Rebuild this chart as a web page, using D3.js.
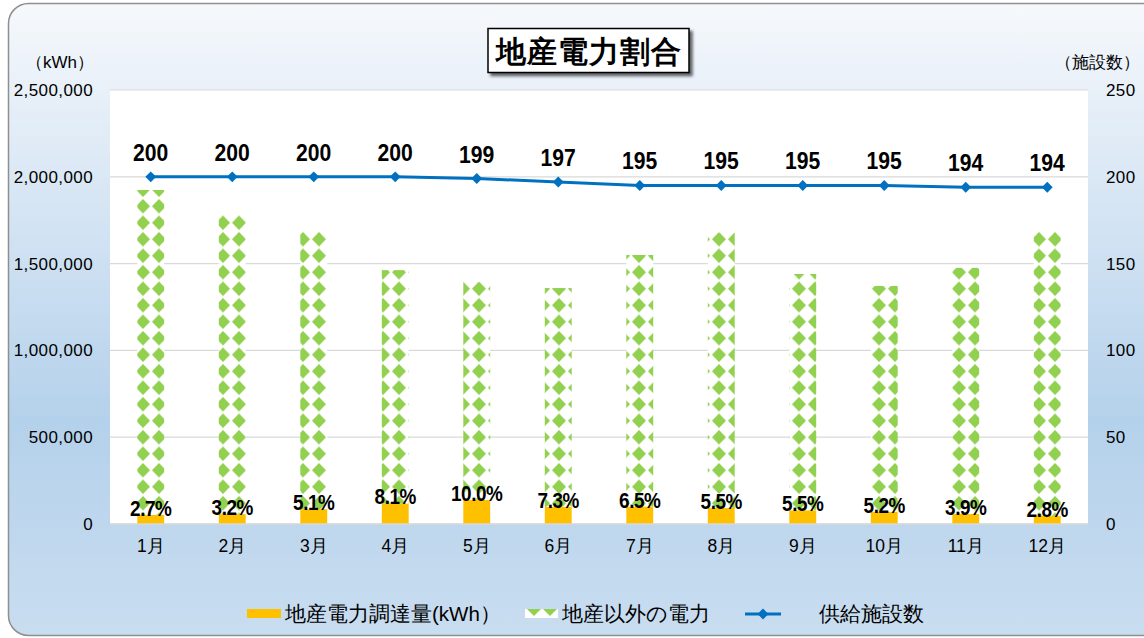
<!DOCTYPE html>
<html><head><meta charset="utf-8">
<script src="https://cdn.jsdelivr.net/npm/d3@7"></script>
<style>
html,body{margin:0;padding:0;background:#fff;overflow:hidden}
text{font-family:"Liberation Sans",Arial,sans-serif}
</style></head>
<body>
<svg id="c" width="1144" height="638"></svg>
<script>
const months = ["1月","2月","3月","4月","5月","6月","7月","8月","9月","10月","11月","12月"];
const localPower = [51900,57200,85800,118500,139400,99200,100800,91900,79200,71300,57500,47100];
const otherPower = [1872000,1729000,1596000,1344000,1255000,1260000,1449000,1588000,1361000,1300000,1418000,1635000];
const facilities = [200,200,200,200,199,197,195,195,195,195,194,194];
const pctLabels = ["2.7%","3.2%","5.1%","8.1%","10.0%","7.3%","6.5%","5.5%","5.5%","5.2%","3.9%","2.8%"];
const leftTicks = [0,500000,1000000,1500000,2000000,2500000];
const rightTicks = [0,50,100,150,200,250];
const titleText = "地産電力割合";
const legendNames = ["地産電力調達量(kWh）","地産以外の電力","供給施設数"];

const svg = d3.select("#c");
const plot = {x0:110, x1:1088, y0:90, y1:524};
const defs = svg.append("defs");
const JP = "Noto Sans CJK JP";

const bg = defs.append("linearGradient").attr("id","bg").attr("x1",0).attr("y1",0).attr("x2",0).attr("y2",1);
[[0,"#f6f9fc"],[0.12,"#eaf1f9"],[0.66,"#b4d1eb"],[1,"#c9ddf0"]].forEach(s=>bg.append("stop").attr("offset",s[0]).attr("stop-color",s[1]));

const sh = defs.append("filter").attr("id","sh").attr("x","-10%").attr("y","-10%").attr("width","130%").attr("height","140%");
sh.append("feGaussianBlur").attr("in","SourceAlpha").attr("stdDeviation",1.5).attr("result","b");
sh.append("feOffset").attr("in","b").attr("dx",3).attr("dy",3).attr("result","o");
sh.append("feComponentTransfer").attr("in","o").attr("result","o2").append("feFuncA").attr("type","linear").attr("slope",0.6);
const fm = sh.append("feMerge"); fm.append("feMergeNode").attr("in","o2"); fm.append("feMergeNode").attr("in","SourceGraphic");

const pat = defs.append("pattern").attr("id","dia").attr("patternUnits","userSpaceOnUse")
  .attr("width",16).attr("height",16.5).attr("x",135).attr("y",0);
pat.append("rect").attr("width",16).attr("height",16.5).attr("fill","#ffffff");
pat.append("path").attr("d","M8,1 L15,8.25 L8,15.5 L1,8.25 Z").attr("fill","#92d050");

// outer frame
svg.append("rect").attr("x",8.5).attr("y",3.5).attr("width",1160).attr("height",632).attr("rx",20)
  .attr("fill","url(#bg)").attr("stroke","#8f8f8f").attr("stroke-width",1.5);

// plot area
svg.append("rect").attr("x",plot.x0).attr("y",plot.y0).attr("width",plot.x1-plot.x0).attr("height",plot.y1-plot.y0).attr("fill","#fff");

const x = d3.scaleBand().domain(months).range([plot.x0,plot.x1]).paddingInner(0.67).paddingOuter(0.335);
const yL = d3.scaleLinear().domain([0,2500000]).range([plot.y1,plot.y0]);
const yR = d3.scaleLinear().domain([0,250]).range([plot.y1,plot.y0]);
const cx = m => x(m)+x.bandwidth()/2;

// gridlines
svg.append("g").selectAll("line").data(leftTicks).join("line")
  .attr("x1",plot.x0).attr("x2",plot.x1).attr("y1",d=>yL(d)).attr("y2",d=>yL(d))
  .attr("stroke","#d9d9d9").attr("stroke-width",1.2);

// axes (text only)
const fmt = d3.format(",");
const axL = svg.append("g").attr("transform",`translate(${plot.x0},0)`)
  .call(d3.axisLeft(yL).tickValues(leftTicks).tickFormat(fmt).tickSize(0).tickPadding(17));
axL.select(".domain").remove();
axL.selectAll("text").attr("font-size",17).attr("fill","#000").attr("letter-spacing",0.4).attr("font-family","Liberation Sans");
const axR = svg.append("g").attr("transform",`translate(${plot.x1},0)`)
  .call(d3.axisRight(yR).tickValues(rightTicks).tickSize(0).tickPadding(18));
axR.select(".domain").remove();
axR.selectAll("text").attr("font-size",17).attr("fill","#000").attr("letter-spacing",0.4).attr("font-family","Liberation Sans");
const axB = svg.append("g").attr("transform",`translate(0,${plot.y1})`)
  .call(d3.axisBottom(x).tickSize(0).tickPadding(16));
axB.select(".domain").remove();
axB.selectAll("text").attr("font-size",17.5).attr("fill","#000").attr("font-family",JP);

// stacked bars
const stackData = months.map((m,i)=>({m, a:localPower[i], b:otherPower[i]}));
const g = svg.append("g");
g.selectAll(".o").data(stackData).join("rect")
  .attr("x",d=>x(d.m)).attr("width",x.bandwidth())
  .attr("y",d=>yL(d.a)).attr("height",d=>yL(0)-yL(d.a)).attr("fill","#ffc000");
g.selectAll(".g").data(stackData).join("rect")
  .attr("x",d=>x(d.m)).attr("width",x.bandwidth())
  .attr("y",d=>yL(d.a+d.b)).attr("height",d=>yL(d.a)-yL(d.a+d.b)).attr("fill","url(#dia)");

// axis line
svg.append("line").attr("x1",plot.x0).attr("x2",plot.x1).attr("y1",plot.y1).attr("y2",plot.y1).attr("stroke","#d9d9d9").attr("stroke-width",1.5);

// pct labels
svg.append("g").selectAll("text").data(stackData).join("text")
  .attr("transform",d=>`translate(${cx(d.m)},${yL(d.a)+1}) scale(0.86,1)`)
  .attr("text-anchor","middle").attr("font-size",22).attr("font-weight","bold").attr("letter-spacing",-0.5)
  .attr("fill","#000").text((d,i)=>pctLabels[i]);

// line
const lineGen = d3.line().x((d,i)=>cx(months[i])).y(d=>yR(d));
svg.append("path").datum(facilities).attr("d",lineGen).attr("fill","none").attr("stroke","#0070c0").attr("stroke-width",3);
svg.append("g").selectAll("path").data(facilities).join("path")
  .attr("transform",(d,i)=>`translate(${cx(months[i])},${yR(d)})`)
  .attr("d",d3.symbol().type(d3.symbolDiamond2).size(75)).attr("fill","#0070c0");
svg.append("g").selectAll("text").data(facilities).join("text")
  .attr("transform",(d,i)=>`translate(${cx(months[i])},${yR(d)-16}) scale(0.92,1)`)
  .attr("text-anchor","middle").attr("font-size",23).attr("font-weight","bold").attr("fill","#000").text(d=>d);

// unit labels
svg.append("text").attr("x",94).attr("y",68).attr("text-anchor","end").attr("font-size",17).attr("font-family",JP).text("（kWh）");
svg.append("text").attr("x",1055).attr("y",68).attr("font-size",17).attr("font-family",JP).text("（施設数）");

// title
const tg = svg.append("g");
tg.append("rect").attr("x",488).attr("y",28.5).attr("width",201).attr("height",44).attr("fill","#fff").attr("stroke","#000").attr("stroke-width",1.5).attr("filter","url(#sh)");
tg.append("text").attr("x",588.5).attr("y",62).attr("text-anchor","middle").attr("font-size",30).attr("font-weight",700)
  .attr("font-family",JP).attr("letter-spacing",1).text(titleText);

// legend
const lg = svg.append("g");
lg.append("rect").attr("x",247).attr("y",609).attr("width",34).attr("height",9).attr("fill","#ffc000");
lg.append("text").attr("x",285).attr("y",621).attr("font-size",20.5).attr("font-family",JP).attr("fill","#000").text(legendNames[0]);
const pat2 = defs.append("pattern").attr("id","dia2").attr("patternUnits","userSpaceOnUse").attr("width",16).attr("height",16).attr("x",526).attr("y",601);
pat2.append("rect").attr("width",16).attr("height",16).attr("fill","#fff");
pat2.append("path").attr("d","M8,1 L15,8 L8,15 L1,8 Z").attr("fill","#92d050");
lg.append("rect").attr("x",525).attr("y",609).attr("width",33).attr("height",9).attr("fill","url(#dia2)");
lg.append("text").attr("x",562).attr("y",621).attr("font-size",20.5).attr("font-family",JP).attr("fill","#000").text(legendNames[1]);
lg.append("line").attr("x1",745).attr("x2",781).attr("y1",614).attr("y2",614).attr("stroke","#0070c0").attr("stroke-width",3);
lg.append("path").attr("transform","translate(763,614)").attr("d",d3.symbol().type(d3.symbolDiamond2).size(75)).attr("fill","#0070c0");
lg.append("text").attr("x",819).attr("y",621).attr("font-size",20.5).attr("font-family",JP).attr("fill","#000").text(legendNames[2]);
</script>
</body></html>
